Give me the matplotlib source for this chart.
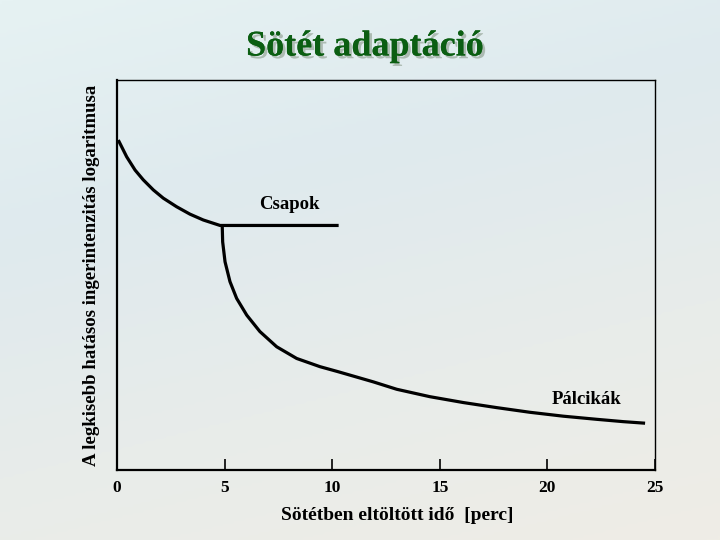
import numpy as np
import matplotlib
matplotlib.use("Agg")
import matplotlib.pyplot as plt
import matplotlib.patheffects as pe
from matplotlib.colors import LinearSegmentedColormap

# cones (csapok): decaying branch, then the plateau
cone_t = [0.06, 0.45, 0.84, 1.22, 1.69, 2.15, 2.77, 3.39, 4.01, 4.79, 10.3]
cone_y = [8.46, 8.03, 7.69, 7.44, 7.18, 6.97, 6.75, 6.56, 6.41, 6.27, 6.27]

# rods (pálcikák): drop after the rod-cone break
rod_t = [4.89, 4.91, 5.02, 5.25, 5.56, 6.03, 6.64, 7.42, 8.35, 9.43, 10.28,
         11.91, 13.00, 14.54, 16.09, 17.64, 19.19, 20.74, 22.29,
         23.53, 24.54]
rod_y = [6.26, 5.85, 5.34, 4.83, 4.40, 3.97, 3.55, 3.16, 2.86, 2.65, 2.52,
         2.26, 2.07, 1.88, 1.73, 1.60, 1.48, 1.38, 1.30, 1.24, 1.20]

xticks = [0, 5, 10, 15, 20, 25]

serif = ["Liberation Serif", "DejaVu Serif"]

fig = plt.figure(figsize=(7.2, 5.4), dpi=100)

# slide-like background gradient
bg = fig.add_axes([0, 0, 1, 1], zorder=-1)
cmap = LinearSegmentedColormap.from_list(
    "bg", ["#e6f2f3", "#dfeaee", "#e8ecea", "#efede6"])
yy, xx = np.mgrid[0:1:200j, 0:1:200j]
grad = 0.75 * yy + 0.25 * xx
bg.imshow(grad, cmap=cmap, aspect="auto", extent=[0, 1, 0, 1], origin="upper")
bg.set_axis_off()

ax = fig.add_axes([0.1625, 0.1296, 0.7472, 0.7223])
ax.set_facecolor("none")
for t, y in ((cone_t, cone_y), (rod_t, rod_y)):
    ax.plot(t, y, color="black", lw=2.3, solid_capstyle="butt",
            solid_joinstyle="round")

ax.set_xlim(0, 25)
ax.set_ylim(0, 10)
ax.set_xticks(xticks)
ax.set_xticklabels([str(t) for t in xticks], family=serif,
                   fontweight="bold", fontsize=12.5)
ax.set_yticks([])
ax.tick_params(axis="x", direction="in", length=8, width=1.2, pad=7)
for s in ("left", "bottom"):
    ax.spines[s].set_linewidth(1.6)
for s in ("top", "right"):
    ax.spines[s].set_linewidth(1.0)

ax.text(8.0, 6.6, "Csapok", family=serif, fontweight="bold", fontsize=13.5,
        ha="center", va="bottom")
ax.text(21.8, 1.6, "Pálcikák", family=serif, fontweight="bold", fontsize=13.5,
        ha="center", va="bottom")

ax.set_xlabel("Sötétben eltöltött idő  [perc]", family=serif,
              fontweight="bold", fontsize=14, labelpad=8, x=0.52)
ax.set_ylabel("A legkisebb hatásos ingerintenzitás logaritmusa",
              family=serif, fontweight="bold", fontsize=13.5, labelpad=12)

fig.text(0.507, 0.913, "Sötét adaptáció", family=serif, fontweight="bold",
         fontsize=26, color="#0b5e12", ha="center", va="center",
         path_effects=[pe.withSimplePatchShadow(offset=(2, -2),
                                                shadow_rgbFace="#8a9a8a",
                                                alpha=0.6),
                       pe.Normal()])

fig.savefig("out.png", dpi=100)
